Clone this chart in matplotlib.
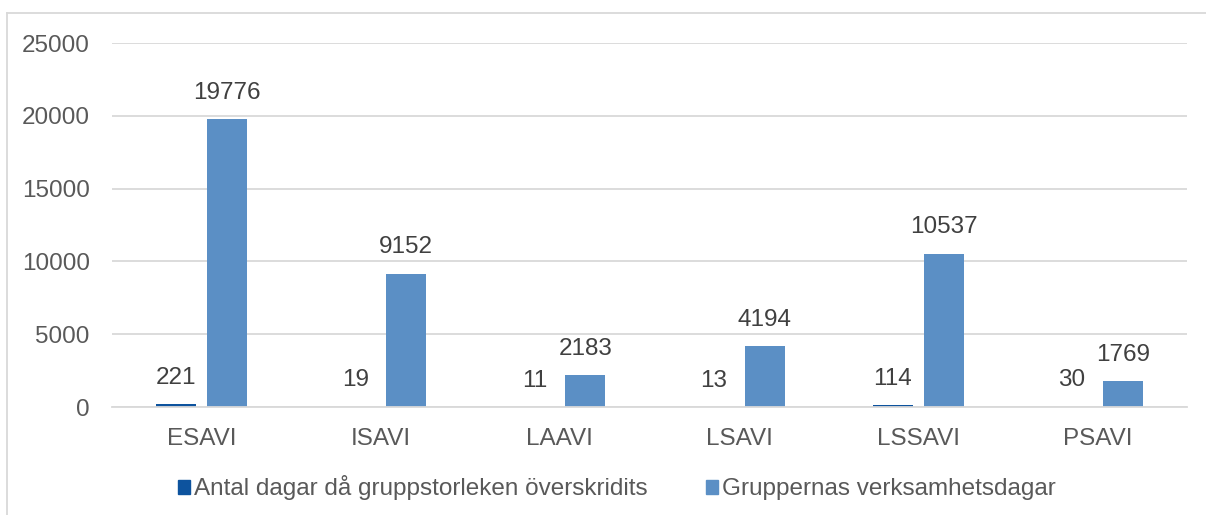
import matplotlib
matplotlib.use("Agg")
import matplotlib.pyplot as plt
import matplotlib.patches as mpatches
import numpy as np

categories = ["ESAVI", "ISAVI", "LAAVI", "LSAVI", "LSSAVI", "PSAVI"]
overskridits = [221, 19, 11, 13, 114, 30]
verksamhetsdagar = [19776, 9152, 2183, 4194, 10537, 1769]
series_names = ["Antal dagar då gruppstorleken överskridits", "Gruppernas verksamhetsdagar"]

dark = "#0D539E"
light = "#5B8FC5"
text_col = "#595959"
fs = 17.5

plt.rcParams["font.family"] = ["Liberation Sans", "DejaVu Sans"]

fig = plt.figure(figsize=(12.06, 5.15), dpi=100)
ax = fig.add_axes([112 / 1206, 1 - 407 / 515, 1075 / 1206, 364 / 515])

x = np.arange(len(categories))
w = 0.223
off = 0.142
b1 = ax.bar(x - off, overskridits, w, color=dark)
b2 = ax.bar(x + off, verksamhetsdagar, w, color=light)

for bars, vals in ((b1, overskridits), (b2, verksamhetsdagar)):
    for rect, v in zip(bars, vals):
        ax.annotate(str(v), (rect.get_x() + rect.get_width() / 2, v),
                    xytext=(0, 11), textcoords="offset points",
                    ha="center", va="bottom", fontsize=fs, color="#404040")

ax.set_xlim(-0.5, len(categories) - 0.5)
ax.set_ylim(0, 25000)
ax.set_yticks(np.arange(0, 25001, 5000))
ax.set_xticks(x)
ax.set_xticklabels(categories)
ax.tick_params(axis="both", length=0, labelsize=fs, colors=text_col)
ax.tick_params(axis="y", pad=16)
ax.tick_params(axis="x", pad=15)
ax.grid(axis="y", color="#D9D9D9", linewidth=1.3)
ax.set_axisbelow(True)
for s in ["top", "right", "left"]:
    ax.spines[s].set_visible(False)
ax.spines["bottom"].set_color("#D9D9D9")
ax.spines["bottom"].set_linewidth(1.3)

handles = [mpatches.Patch(color=dark), mpatches.Patch(color=light)]
fig.legend(handles, series_names, loc="center", bbox_to_anchor=(617 / 1206, 1 - 488 / 515),
           ncol=2, frameon=False, fontsize=fs, handlelength=0.5, handleheight=0.5,
           handletextpad=0.15, columnspacing=2.4, labelcolor=text_col)

# outer chart border
fig.add_artist(plt.Line2D([7 / 1206, 1], [1 - 13 / 515, 1 - 13 / 515], color="#D9D9D9", lw=1.3))
fig.add_artist(plt.Line2D([7 / 1206, 7 / 1206], [0, 1 - 13 / 515], color="#D9D9D9", lw=1.3))

fig.savefig("out.png", dpi=100)
